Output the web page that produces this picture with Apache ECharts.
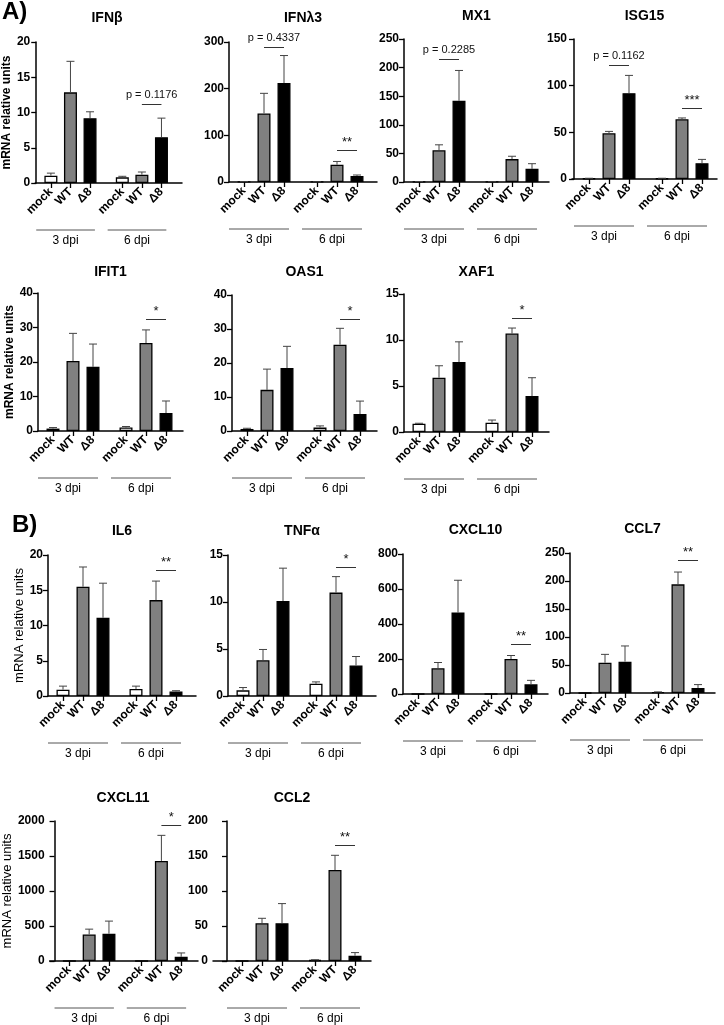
<!DOCTYPE html>
<html><head><meta charset="utf-8">
<script src="https://cdn.jsdelivr.net/npm/echarts@6/dist/echarts.min.js"></script>
<style>html,body{margin:0;padding:0;background:#fff}#c{width:724px;height:1025px}</style>
</head><body><div id="c"></div>
<script>
// ---------- DATA ----------
const categories = ['mock', 'WT', 'Δ8', 'mock', 'WT', 'Δ8'];
const groupLabels = ['3 dpi', '6 dpi'];
const genes = ['IFNβ', 'IFNλ3', 'MX1', 'ISG15', 'IFIT1', 'OAS1', 'XAF1', 'IL6', 'TNFα', 'CXCL10', 'CCL7', 'CXCL11', 'CCL2'];

const IFNb_mean   = [1.04, 12.86, 9.2, 0.8, 1.18, 6.5];
const IFNb_err    = [0.36, 4.4, 0.9, 0.15, 0.38, 2.7];
const IFNL3_mean  = [0.5, 147, 212, 0.3, 37, 13];
const IFNL3_err   = [0.3, 43, 59, 0.2, 7, 2];
const MX1_mean    = [0.5, 55.6, 142, 0.3, 40, 23];
const MX1_err     = [0.3, 9.4, 53, 0.2, 5, 9];
const ISG15_mean  = [0.5, 49, 92, 0.5, 64, 17];
const ISG15_err   = [0.3, 2, 19, 0.3, 1.4, 4];
const IFIT1_mean  = [0.7, 20.3, 18.6, 1.0, 25.5, 5.2];
const IFIT1_err   = [0.3, 8, 6.6, 0.3, 3.8, 3.5];
const OAS1_mean   = [0.6, 12.1, 18.5, 1.0, 25.4, 5.0];
const OAS1_err    = [0.2, 6.1, 6.4, 0.5, 4.8, 3.8];
const XAF1_mean   = [0.9, 5.9, 7.6, 1.0, 10.7, 3.9];
const XAF1_err    = [0.05, 1.3, 2.2, 0.3, 0.6, 2.0];
const IL6_mean    = [0.9, 15.5, 11.1, 1.0, 13.6, 0.65];
const IL6_err     = [0.5, 2.8, 4.9, 0.4, 2.7, 0.1];
const TNFa_mean   = [0.6, 3.8, 10.1, 1.3, 11.0, 3.25];
const TNFa_err    = [0.3, 1.15, 3.5, 0.2, 1.7, 0.95];
const CXCL10_mean = [0, 147, 465, 0, 200, 55];
const CXCL10_err  = [0, 33, 185, 0, 20, 23];
const CCL7_mean   = [0, 54, 56, 1.5, 194, 9];
const CCL7_err    = [0, 15, 28, 0.5, 22, 6];
const CXCL11_mean = [0, 380, 390, 0, 1430, 60];
const CXCL11_err  = [0, 75, 180, 0, 365, 55];
const CCL2_mean   = [0, 54, 54, 1.5, 130, 7.5];
const CCL2_err    = [0, 7, 28, 0.3, 21, 4.5];

const yMaxes    = [20, 300, 250, 150, 40, 40, 15, 20, 15, 800, 250, 2000, 200];
const yIntervals = [5, 100, 50, 50, 10, 10, 5, 5, 5, 200, 50, 500, 50];

// significance annotations: group (0 = 3 dpi, 1 = 6 dpi), height in data units, label
const sigIFNb   = [{ group: 1, y: 11.1, text: 'p = 0.1176' }];
const sigIFNL3  = [{ group: 0, y: 289, text: 'p = 0.4337' }, { group: 1, y: 69, text: '**' }];
const sigMX1    = [{ group: 0, y: 215, text: 'p = 0.2285' }];
const sigISG15  = [{ group: 0, y: 122, text: 'p = 0.1162' }, { group: 1, y: 76, text: '***' }];
const sigIFIT1  = [{ group: 1, y: 32.5, text: '*' }];
const sigOAS1   = [{ group: 1, y: 33, text: '*' }];
const sigXAF1   = [{ group: 1, y: 12.4, text: '*' }];
const sigIL6    = [{ group: 1, y: 17.9, text: '**' }];
const sigTNFa   = [{ group: 1, y: 13.7, text: '*' }];
const sigCXCL10 = [{ group: 1, y: 286, text: '**' }];
const sigCCL7   = [{ group: 1, y: 237, text: '**' }];
const sigCXCL11 = [{ group: 1, y: 1943, text: '*' }];
const sigCCL2   = [{ group: 1, y: 166, text: '**' }];

const yAxisName = 'mRNA relative units';

const means = [IFNb_mean, IFNL3_mean, MX1_mean, ISG15_mean, IFIT1_mean, OAS1_mean, XAF1_mean,
               IL6_mean, TNFa_mean, CXCL10_mean, CCL7_mean, CXCL11_mean, CCL2_mean];
const errs  = [IFNb_err, IFNL3_err, MX1_err, ISG15_err, IFIT1_err, OAS1_err, XAF1_err,
               IL6_err, TNFa_err, CXCL10_err, CCL7_err, CXCL11_err, CCL2_err];
const sigs  = [sigIFNb, sigIFNL3, sigMX1, sigISG15, sigIFIT1, sigOAS1, sigXAF1,
               sigIL6, sigTNFa, sigCXCL10, sigCCL7, sigCXCL11, sigCCL2];

// ---------- LAYOUT / STYLE ----------
const FONT = "'Liberation Sans', Arial, sans-serif";
const xPos = [0.75, 1.75, 2.75, 4.4, 5.4, 6.4];   // bar slot positions on the x value axis
const PX_PER_UNIT = 20;
// [left, top, zeroY, width, xmin, titleY, nameGap(or null), nameBold]
const layout = [
  [32, 42, 183, 150, -0.05, 18, 17, true],
  [229, 42, 182, 148, 0, 18, null],
  [404, 39, 182, 145, 0, 16, null],
  [572, 39, 179, 145, -0.1, 16, null],
  [38, 293, 431, 145, 0, 272, 21, true],
  [232, 295, 431, 145, 0, 272, null],
  [404, 294, 432, 145, 0, 272, null],
  [48, 555, 696, 148, 0, 531, 16, false],
  [228, 555, 696, 148, 0, 531, null],
  [403, 554, 694, 145, 0, 530, null],
  [570, 553, 693, 145, 0, 529, null],
  [48, 821, 961, 150, -0.25, 798, 33, false],
  [213, 821, 961, 158, -0.7, 798, null]
];
const barFill = ['#ffffff', '#808080', '#000000', '#ffffff', '#808080', '#000000'];

const chart = echarts.init(document.getElementById('c'), null, { renderer: 'canvas' });

function labelFor(v) {
  for (let k = 0; k < xPos.length; k++) if (Math.abs(v - xPos[k]) < 1e-6) return categories[k];
  return '';
}

function renderErr(params, api) {
  const x = api.value(0), y0 = api.value(1), y1 = api.value(2);
  const p0 = api.coord([x, y0]);
  const p1 = api.coord([x, y1]);
  const cw = 4;
  const st = { stroke: '#444', lineWidth: 1 };
  return {
    type: 'group',
    children: [
      { type: 'line', shape: { x1: p0[0], y1: p0[1], x2: p1[0], y2: p1[1] }, style: st },
      { type: 'line', shape: { x1: p1[0] - cw, y1: p1[1], x2: p1[0] + cw, y2: p1[1] }, style: st }
    ]
  };
}

const grids = [], xAxes = [], yAxes = [], series = [];
layout.forEach((L, i) => {
  const [left, top, zero, width, xmin, , nameGap, nameBold] = L;
  grids.push({ left: left, top: top, width: width, height: zero - top, containLabel: false });
  xAxes.push({
    gridIndex: i, type: 'value', min: xmin, max: xmin + width / PX_PER_UNIT,
    axisLine: { show: true, onZero: false, lineStyle: { color: '#000', width: 1.5 } },
    splitLine: { show: false },
    axisTick: { show: true, customValues: xPos, length: 5, lineStyle: { color: '#000', width: 1.3 } },
    axisLabel: {
      show: true, customValues: xPos, rotate: 45, margin: 7, formatter: labelFor,
      fontSize: 12, fontWeight: 'bold', color: '#000', fontFamily: FONT
    }
  });
  const y = {
    gridIndex: i, type: 'value', min: 0, max: yMaxes[i], interval: yIntervals[i],
    axisLine: { show: true, lineStyle: { color: '#000', width: 1.5 } },
    axisTick: { show: true, length: 5, lineStyle: { color: '#000', width: 1.3 } },
    axisLabel: { fontSize: 12, fontWeight: 'bold', color: '#000', fontFamily: FONT, margin: 5,
                 formatter: v => String(v) },
    splitLine: { show: false }
  };
  if (nameGap != null) {
    Object.assign(y, {
      name: yAxisName, nameLocation: 'middle', nameGap: nameGap,
      nameTextStyle: { fontSize: nameBold ? 12 : 13, fontWeight: nameBold ? 'bold' : 'normal', color: '#000', fontFamily: FONT }
    });
  }
  yAxes.push(y);

  const m = means[i], e = errs[i];
  series.push({
    type: 'bar', xAxisIndex: i, yAxisIndex: i, barWidth: 13, silent: true,
    data: m.map((v, k) => ({
      value: [xPos[k], v],
      itemStyle: { color: barFill[k], borderColor: '#000', borderWidth: 1.3 }
    })),
    markLine: {
      silent: true, symbol: 'none', animation: false,
      lineStyle: { color: '#333', width: 1, type: 'solid' },
      data: sigs[i].map(s => {
        const isP = s.text.indexOf('p') === 0;
        return [
          { coord: [xPos[s.group * 3 + 1], s.y],
            label: { show: true, position: 'middle', formatter: s.text, color: '#111',
                     fontSize: isP ? 11 : 13, fontFamily: FONT, distance: isP ? 4 : 1 } },
          { coord: [xPos[s.group * 3 + 2], s.y] }
        ];
      })
    }
  });
  series.push({
    type: 'custom', xAxisIndex: i, yAxisIndex: i, silent: true, z: 3,
    renderItem: renderErr, encode: { x: 0, y: 1 },
    data: m.map((v, k) => [xPos[k], v, v + e[k]]).filter((d, k) => e[k] > 0)
  });
});

chart.setOption({
  animation: false,
  backgroundColor: '#fff',
  textStyle: { fontFamily: FONT },
  grid: grids, xAxis: xAxes, yAxis: yAxes, series: series
});

// annotations: titles, group brackets, panel letters
const gfx = [];
gfx.push({ type: 'text', left: 2, top: 0, style: { text: 'A)', font: 'bold 24px ' + FONT, fill: '#000' } });
gfx.push({ type: 'text', left: 12, top: 513, style: { text: 'B)', font: 'bold 24px ' + FONT, fill: '#000' } });
layout.forEach((L, i) => {
  const [left, top, zero, width, xmin, titleY] = L;
  gfx.push({ type: 'text', x: left + width / 2, y: titleY,
    style: { text: genes[i], font: 'bold 14px ' + FONT, fill: '#000', align: 'center', verticalAlign: 'middle' } });
  for (let g = 0; g < 2; g++) {
    const pa = chart.convertToPixel({ gridIndex: i }, [xPos[g * 3] - 0.75, 0]);
    const pb = chart.convertToPixel({ gridIndex: i }, [xPos[g * 3 + 2] + 0.25, 0]);
    const ly = zero + 47;
    gfx.push({ type: 'line', shape: { x1: pa[0], y1: ly, x2: pb[0], y2: ly }, style: { stroke: '#555', lineWidth: 1 } });
    gfx.push({ type: 'text', x: (pa[0] + pb[0]) / 2, y: ly + 11,
      style: { text: groupLabels[g], font: '12px ' + FONT, fill: '#000', align: 'center', verticalAlign: 'middle' } });
  }
});
chart.setOption({ graphic: gfx });
</script>
</body></html>
